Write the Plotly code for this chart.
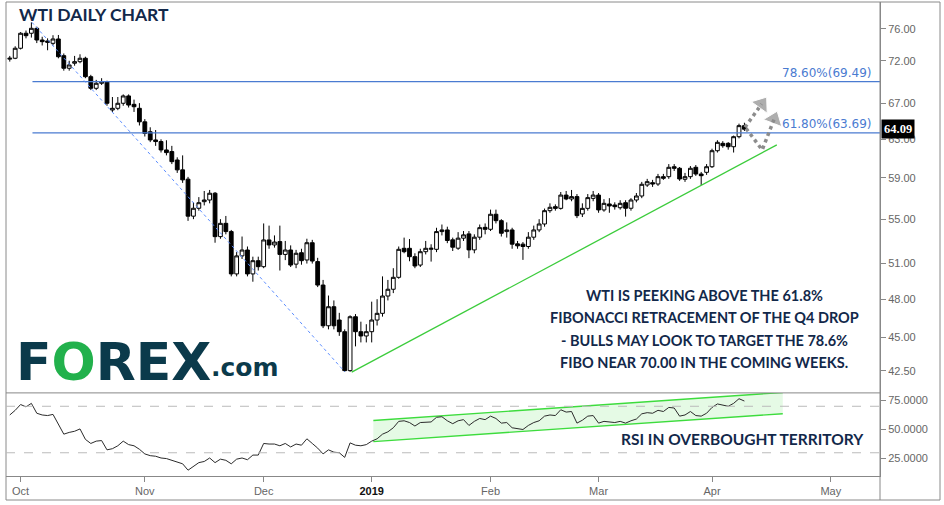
import math
import pandas as pd
import plotly.graph_objects as go

# ---------------- data ----------------
holidays = ["2018-12-25", "2019-01-01"]
calendar = [d for d in pd.bdate_range("2018-09-27", "2019-05-24")
            if d.strftime("%Y-%m-%d") not in holidays]
n_bars = 137
dates = calendar[:n_bars]

open_ = [72.20, 72.31, 73.55, 75.45, 75.45, 76.09, 74.59, 74.47, 74.17, 74.72,
         72.63, 71.09, 71.70, 71.89, 72.31, 70.08, 68.71, 69.30, 69.49, 66.22,
         66.41, 66.98, 67.82, 66.86, 66.41, 64.90, 63.81, 62.93, 62.76, 61.87,
         61.70, 60.82, 59.81, 58.87, 55.28, 56.03, 56.66, 56.82, 57.48, 53.39,
         54.61, 53.85, 50.11, 51.67, 52.19, 50.11, 51.25, 50.73, 53.09, 52.64,
         52.94, 51.80, 52.19, 50.95, 51.95, 51.31, 52.84, 51.17, 49.17, 45.88,
         47.39, 46.33, 45.42, 42.51, 46.59, 45.42, 45.09, 45.42, 46.33, 46.86,
         48.26, 48.82, 49.82, 52.34, 52.34, 51.60, 50.87, 52.04, 52.25, 52.25,
         53.85, 54.00, 53.10, 52.35, 53.25, 53.64, 52.20, 53.34, 54.24, 54.06,
         55.46, 54.86, 53.85, 54.00, 52.74, 52.71, 52.50, 53.34, 54.00, 54.55,
         55.80, 56.18, 56.02, 57.30, 56.92, 57.15, 55.49, 56.02, 56.98, 57.30,
         55.87, 56.44, 56.34, 56.08, 56.56, 56.03, 56.82, 57.21, 58.29, 58.52,
         58.39, 59.12, 59.12, 60.13, 59.97, 58.86, 59.12, 60.07, 59.39, 59.56,
         60.13, 61.79, 62.57, 62.57, 62.21, 63.28, 64.48]
high = [72.60, 73.80, 75.60, 75.80, 76.87, 76.30, 75.00, 74.80, 75.20, 75.23,
        72.90, 72.00, 72.60, 72.80, 72.50, 70.30, 69.70, 69.90, 69.60, 67.70,
        67.70, 68.00, 68.00, 67.40, 67.00, 65.20, 64.30, 64.00, 63.00, 62.90,
        62.30, 61.10, 61.30, 59.10, 56.60, 57.10, 57.70, 57.80, 57.60, 55.00,
        55.30, 54.00, 52.00, 53.40, 52.50, 51.60, 51.60, 54.60, 54.40, 53.50,
        54.40, 53.00, 52.60, 52.20, 52.30, 53.20, 53.10, 51.50, 49.60, 48.30,
        47.90, 46.90, 45.60, 46.70, 46.80, 46.20, 46.00, 47.80, 48.00, 49.90,
        49.60, 50.60, 52.50, 53.30, 53.17, 51.90, 52.30, 53.00, 52.70, 54.20,
        54.50, 54.30, 53.30, 53.80, 53.90, 53.90, 53.60, 54.50, 54.60, 55.90,
        55.90, 55.00, 54.70, 54.20, 53.00, 52.90, 53.80, 54.40, 55.00, 56.00,
        56.50, 56.40, 57.60, 57.70, 57.80, 57.40, 56.50, 57.40, 57.70, 57.50,
        56.90, 57.00, 56.60, 56.80, 56.80, 57.00, 57.50, 58.60, 58.90, 58.80,
        59.40, 59.40, 60.40, 60.40, 60.10, 59.50, 60.20, 60.30, 59.60, 60.40,
        62.00, 62.90, 62.80, 62.70, 63.40, 64.70, 64.80]
low = [71.90, 72.20, 73.40, 74.80, 74.90, 74.20, 73.90, 73.30, 73.90, 72.30,
       70.80, 70.80, 71.40, 71.70, 69.90, 68.50, 68.50, 69.10, 66.70, 66.00,
       66.20, 66.70, 66.50, 66.00, 64.50, 63.30, 62.70, 62.30, 61.60, 61.30,
       60.40, 59.50, 58.50, 54.84, 55.00, 55.80, 56.30, 56.50, 52.84, 53.20,
       53.60, 49.90, 49.90, 51.40, 49.90, 49.45, 50.40, 50.60, 52.30, 52.40,
       50.40, 51.30, 50.70, 50.60, 50.90, 51.00, 51.00, 49.00, 45.70, 45.60,
       45.60, 45.10, 42.43, 42.43, 44.30, 44.60, 44.60, 44.60, 45.90, 46.60,
       47.90, 48.50, 49.70, 51.90, 51.20, 50.60, 50.70, 51.80, 51.17, 52.00,
       53.50, 52.80, 52.10, 52.20, 53.00, 51.47, 51.90, 53.10, 53.60, 53.90,
       54.60, 53.40, 53.30, 52.30, 52.30, 51.32, 52.30, 53.10, 53.80, 54.30,
       55.60, 55.80, 55.90, 56.80, 56.70, 55.10, 55.20, 55.80, 56.70, 55.60,
       55.70, 55.60, 55.90, 55.90, 55.24, 55.80, 56.60, 57.00, 58.10, 58.10,
       58.20, 58.80, 58.90, 59.70, 58.70, 58.60, 58.90, 59.20, 58.29, 59.30,
       60.00, 61.60, 62.10, 61.90, 61.60, 63.10, 63.90]
close = [72.31, 73.55, 75.45, 75.14, 76.09, 74.59, 74.38, 74.30, 74.72, 72.50,
         71.09, 71.49, 71.89, 72.31, 70.08, 68.71, 69.30, 69.49, 66.98, 66.41,
         66.98, 67.82, 66.78, 66.59, 64.90, 63.63, 62.93, 62.76, 61.87, 61.59,
         60.65, 59.81, 58.80, 55.28, 56.03, 56.56, 56.82, 57.48, 53.39, 54.61,
         53.85, 50.11, 51.67, 52.19, 50.11, 51.25, 50.73, 53.09, 52.64, 52.90,
         51.80, 52.19, 50.87, 51.90, 51.25, 52.84, 51.22, 49.17, 45.88, 47.39,
         45.88, 45.42, 42.51, 46.59, 45.42, 45.09, 45.42, 46.33, 46.86, 48.26,
         48.82, 49.82, 52.25, 52.04, 51.60, 50.79, 52.04, 52.34, 52.34, 53.85,
         54.00, 53.04, 52.44, 53.25, 53.55, 52.20, 53.34, 54.21, 54.06, 55.46,
         54.86, 53.70, 54.00, 52.71, 52.56, 52.50, 53.34, 54.00, 54.55, 55.80,
         56.12, 56.02, 57.30, 56.92, 57.15, 55.33, 56.02, 57.05, 57.30, 55.87,
         56.50, 56.25, 56.18, 56.50, 56.03, 56.82, 57.21, 58.36, 58.62, 58.39,
         59.12, 58.96, 60.07, 59.97, 58.89, 59.12, 59.97, 59.39, 59.22, 60.13,
         61.79, 62.68, 62.32, 62.21, 63.28, 64.48, 64.09]
rsi = [62.5, 66.5, 71.5, 69.5, 72.5, 64, 62.5, 62, 63, 54,
       46, 47.5, 48.5, 50.5, 41.5, 38, 40, 40.5, 32.5, 33.5,
       36, 40, 37, 36, 33, 29, 27.5, 27, 25.5, 25,
       23.5, 22, 20.5, 15, 18.5, 21.5, 22.5, 25.5, 21.5, 24.5,
       23.5, 20.5, 24.5, 25.5, 24, 28, 28, 38, 37.5, 37.5,
       36, 38, 35, 37.5, 36.5, 42, 38, 34, 29, 32.5,
       30.5, 30, 26, 38.5, 36.5, 36, 37, 40, 42, 46,
       48, 51.5, 57, 57.5, 56, 53, 56, 56.5, 56.5, 60.5,
       61, 57.5, 55, 57.5, 58.5, 53.5, 57, 59.5, 58.5, 61.5,
       59.5, 55.5, 56, 51.5, 51, 50, 53.5, 56, 57.5, 61.5,
       62.5, 62, 67, 65, 65.5, 55.5, 58, 61.5, 62, 55.5,
       57, 56.5, 56, 57, 55.5, 57.5, 59, 63.5, 64.5, 64,
       66.5, 65.5, 69, 68.5, 61.5, 62.5, 65.5, 62, 61.5, 64,
       69, 72, 71, 70, 72.5, 76.5, 74.5]

price_ticks = [42.50, 45.00, 48.00, 51.00, 55.00, 59.00, 63.00, 67.00, 72.00, 76.00]
rsi_ticks = [25, 50, 75]
rsi_levels = [70, 30]
month_labels = ["Oct", "Nov", "Dec", "2019", "Feb", "Mar", "Apr", "May"]
last_price = 64.09

# drawings (bar index, price)
fib_levels = [69.49, 63.69]
fib_labels = ["78.60%(69.49)", "61.80%(63.69)"]
fib_start = 4.2
swing_x, swing_y = [4.1, 62.0], [76.87, 42.43]
trend_x, trend_y = [63.3, 142.0], [42.4, 62.4]
arrow1_x, arrow1_y = [136.1, 139.2], [64.3, 66.9]
arrow2_x, arrow2_y = [136.3, 139.3, 141.5], [64.18, 61.87, 65.2]
chan_x = [67.3, 143.1]
chan_upper = [57.8, 81.9]
chan_lower = [39.6, 63.6]

# ---------------- layout helpers ----------------
W, H = 944, 505
L, R, T, B = 6, 64, 2, 29
x_max = 161.1
x_min = -0.7
split = (476 - 392.9) / 474


def px(X):
    return (X - L) / (W - L - R)


def py(Y):
    return (H - B - Y) / (H - T - B)


idx = list(range(len(dates)))
tick_pos = []
seen = set()
for i, d in enumerate(calendar):
    key = (d.year, d.month)
    if d.month != 9 and key not in seen:
        seen.add(key)
        tick_pos.append(i)
tick_pos = tick_pos[:len(month_labels)]
tick_text = [("<span style='color:#111'><b>%s</b></span>" % m) if m == "2019" else m
             for m in month_labels]

fig = go.Figure()

# RSI channel fill
fig.add_trace(go.Scatter(
    x=chan_x + chan_x[::-1], y=chan_upper + chan_lower[::-1],
    fill="toself", fillcolor="rgba(150,235,150,0.25)", line=dict(width=0),
    mode="lines", xaxis="x", yaxis="y2", hoverinfo="skip"))
for yy in (chan_upper, chan_lower):
    fig.add_trace(go.Scatter(x=chan_x, y=yy, mode="lines",
                             line=dict(color="#3ddc3d", width=1.4),
                             xaxis="x", yaxis="y2", hoverinfo="skip"))

# RSI line
fig.add_trace(go.Scatter(x=idx, y=rsi, mode="lines",
                         line=dict(color="#2b2b2b", width=1),
                         xaxis="x", yaxis="y2", hoverinfo="skip"))

# Fib lines
for lv in fib_levels:
    fig.add_trace(go.Scatter(x=[fib_start, x_max], y=[lv, lv], mode="lines",
                             line=dict(color="#4a7bd1", width=1.2),
                             xaxis="x", yaxis="y", hoverinfo="skip"))

# swing line (dotted blue)
fig.add_trace(go.Scatter(x=swing_x, y=swing_y, mode="lines",
                         line=dict(color="#5a8cff", width=1, dash="dot"),
                         xaxis="x", yaxis="y", hoverinfo="skip"))
# trend line (green)
fig.add_trace(go.Scatter(x=trend_x, y=trend_y, mode="lines",
                         line=dict(color="#3ccc3c", width=1.3),
                         xaxis="x", yaxis="y", hoverinfo="skip"))

# candles
fig.add_trace(go.Candlestick(
    x=idx, open=open_, high=high, low=low, close=close,
    increasing=dict(line=dict(color="#000000", width=1), fillcolor="#ffffff"),
    decreasing=dict(line=dict(color="#000000", width=1), fillcolor="#000000"),
    whiskerwidth=0, xaxis="x", yaxis="y", hoverinfo="skip"))

# dotted arrows
for ax_, ay_ in ((arrow1_x, arrow1_y), (arrow2_x, arrow2_y)):
    sizes = [0] * (len(ax_) - 1) + [17]
    fig.add_trace(go.Scatter(
        x=ax_, y=ay_, mode="lines+markers",
        line=dict(color="#8c8c8c", width=3.5, dash="dot"),
        marker=dict(symbol="triangle-up", size=sizes, color="#8c8c8c",
                    angleref="previous"),
        xaxis="x", yaxis="y", hoverinfo="skip", cliponaxis=False))

axis_font = dict(family="Liberation Sans, Arial", size=11, color="#666666")

fig.update_layout(
    width=W, height=H,
    margin=dict(l=L, r=R, t=T, b=B),
    paper_bgcolor="white", plot_bgcolor="white",
    showlegend=False, hovermode=False,
    boxgap=0.3, boxgroupgap=0.0,
    xaxis=dict(domain=[0, 1], anchor="y2", range=[x_min, x_max],
               tickmode="array", tickvals=tick_pos, ticktext=tick_text,
               showline=True, linecolor="#888888", linewidth=1,
               ticks="outside", ticklen=5, tickcolor="#888888",
               showgrid=False, zeroline=False, tickfont=axis_font,
               rangeslider=dict(visible=False)),
    yaxis=dict(domain=[split, 1], anchor="x", side="right", type="log",
               range=[math.log10(40.93), math.log10(79.57)],
               tickmode="array", tickvals=price_ticks,
               ticktext=["%.2f" % v for v in price_ticks],
               showline=True, linecolor="#888888", linewidth=1,
               ticks="outside", ticklen=5, tickcolor="#888888",
               showgrid=False, zeroline=False, tickfont=axis_font),
    yaxis2=dict(domain=[0, split], anchor="x", side="right",
                range=[10, 81.5],
                tickmode="array", tickvals=rsi_ticks,
                ticktext=["%.4f" % v for v in rsi_ticks],
                showline=True, linecolor="#888888", linewidth=1,
                ticks="outside", ticklen=5, tickcolor="#888888",
                showgrid=False, zeroline=False, tickfont=axis_font),
)

shapes = []
# outer frame
shapes.append(dict(type="rect", xref="paper", yref="paper",
                   x0=0, x1=px(940), y0=py(500), y1=1,
                   line=dict(color="#8a8a8a", width=1)))
# right axis extension
shapes.append(dict(type="line", xref="paper", yref="paper",
                   x0=1, x1=1, y0=py(500), y1=1,
                   line=dict(color="#888888", width=1)))
# panel separator
shapes.append(dict(type="line", xref="paper", yref="paper",
                   x0=0, x1=1, y0=split, y1=split,
                   line=dict(color="#888888", width=1)))
# RSI levels
for lv in rsi_levels:
    shapes.append(dict(type="line", xref="paper", yref="y2",
                       x0=0, x1=1, y0=lv, y1=lv,
                       line=dict(color="#bbbbbb", width=1, dash="dash")))
fig.update_layout(shapes=shapes)

navy = "#12284a"
hum = "Lato, Liberation Sans"
ann = []
ann.append(dict(xref="paper", yref="paper", x=px(17), y=py(14),
                xanchor="left", yanchor="middle", showarrow=False,
                text="<b>WTI DAILY CHART</b>",
                font=dict(family=hum, size=17.5, color=navy)))
# logo
ann.append(dict(xref="paper", yref="paper", x=px(14), y=py(362),
                xanchor="left", yanchor="middle", showarrow=False,
                text="<b>F<span style='color:#22b14c'>O</span>REX</b>",
                font=dict(family="DejaVu Sans", size=52, color="#0b3a4b")))
ann.append(dict(xref="paper", yref="paper", x=px(209), y=py(367),
                xanchor="left", yanchor="middle", showarrow=False,
                text="<b>.com</b>",
                font=dict(family="DejaVu Sans", size=25, color="#0b3a4b")))
# commentary
lines = ["WTI IS PEEKING ABOVE THE 61.8%",
         "FIBONACCI RETRACEMENT OF THE Q4 DROP",
         "- BULLS MAY LOOK TO TARGET THE 78.6%",
         "FIBO NEAR 70.00 IN THE COMING WEEKS."]
line_y = [295, 317.5, 340, 362]
for t, yy in zip(lines, line_y):
    ann.append(dict(xref="paper", yref="paper", x=px(704), y=py(yy),
                    xanchor="center", yanchor="middle", showarrow=False,
                    text="<b>%s</b>" % t,
                    font=dict(family=hum, size=14.5, color=navy)))
ann.append(dict(xref="paper", yref="paper", x=px(742), y=py(439),
                xanchor="center", yanchor="middle", showarrow=False,
                text="<b>RSI IN OVERBOUGHT TERRITORY</b>",
                font=dict(family=hum, size=15.5, color=navy)))
# fib labels
for lv, lab in zip(fib_levels, fib_labels):
    ann.append(dict(xref="paper", yref="y", x=px(873), y=math.log10(lv),
                    xanchor="right", yanchor="bottom", showarrow=False,
                    text=lab, yshift=0,
                    font=dict(family="DejaVu Sans", size=12, color="#4a7bd1")))
# last price tag
ann.append(dict(xref="paper", yref="y", x=px(881), y=math.log10(last_price),
                xanchor="left", yanchor="middle", showarrow=False,
                text="<b>%.2f</b>" % last_price, bgcolor="#000000",
                borderpad=2,
                font=dict(family="Liberation Serif", size=12.5, color="#ffffff")))
fig.update_layout(annotations=ann)

fig.write_html("out.html", config={"displayModeBar": False},
               post_script="document.body.style.margin='0px';document.body.style.padding='0px';")
